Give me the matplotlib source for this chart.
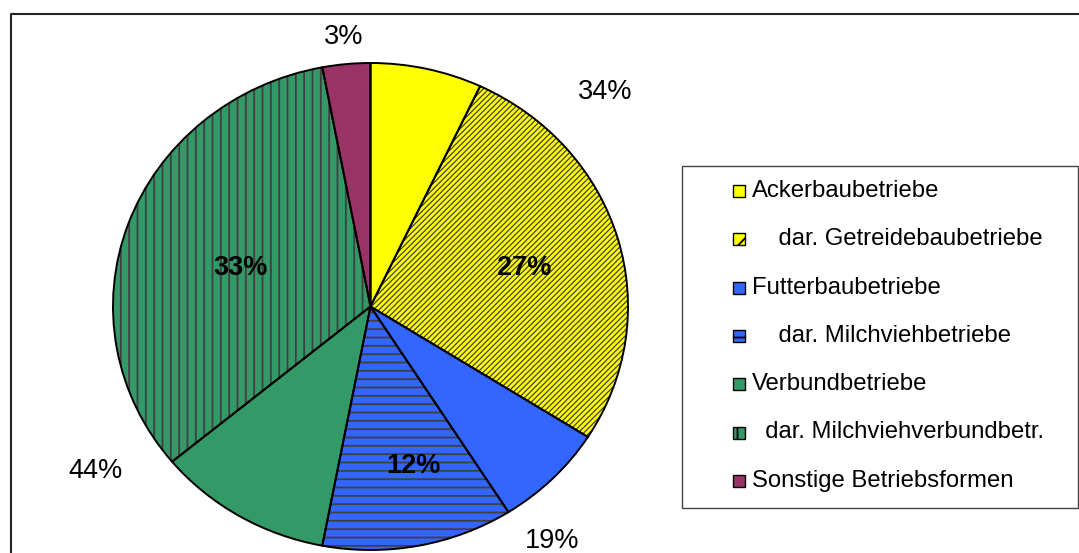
#plot.py
#pie chart of farm types (Betriebsformen)
import matplotlib
matplotlib.use("Agg")
import matplotlib.pyplot as plt
from matplotlib.patches import Rectangle

plt.rcParams['font.family'] = ['Liberation Sans', 'DejaVu Sans']
plt.rcParams['hatch.linewidth'] = 1.3

#data, clockwise from the top
names = ["Ackerbaubetriebe",
         "    dar. Getreidebaubetriebe",
         "Futterbaubetriebe",
         "    dar. Milchviehbetriebe",
         "Verbundbetriebe",
         "  dar. Milchviehverbundbetr.",
         "Sonstige Betriebsformen"]
shares = [7, 27, 7, 12, 11, 33, 3]
colors = ["#FFFF00", "#FFFF00", "#3366FF", "#3366FF", "#339966", "#339966", "#993366"]
hatches = [None, "//////", None, "--", None, "||", None]
hatch_lw = [0, 0.9, 0, 1.3, 0, 1.3, 0]

#percentage labels: text, bold?, position in pie units
pct_text = ["34%", "27%", "19%", "12%", "44%", "33%", "3%"]
pct_bold = [False, True, False, True, False, True, False]
pct_pos = [(0.913, 0.879), (0.598, 0.160), (0.707, -0.961), (0.167, -0.657),
           (-1.068, -0.674), (-0.505, 0.160), (-0.105, 1.105)]

W, H = 1079, 553
fig = plt.figure(figsize=(W/100, H/100), dpi=100)

#background axes in pixel units for frame and legend
bg = fig.add_axes([0, 0, 1, 1])
bg.set_xlim(0, W)
bg.set_ylim(H, 0)
bg.axis('off')
bg.plot([10.5, 10.5, W], [H, 13.5, 13.5], color="#222222", lw=1.5)

#pie (slightly wider than tall like the original)
cx, cy, rx, ry = 370.5, 306.5, 257.5, 243.5
ax = fig.add_axes([(cx-rx)/W, (H-cy-ry)/H, 2*rx/W, 2*ry/H])
hatch_col = "#404040"
wedges, _ = ax.pie(shares, colors=colors, startangle=90, counterclock=False,
                   wedgeprops=dict(linewidth=0, edgecolor=hatch_col))
for w, h, lw in zip(wedges, hatches, hatch_lw):
    if h:
        w.set_hatch(h)
        if hasattr(w, "set_hatch_linewidth"):
            w.set_hatch_linewidth(lw)
ax.pie(shares, startangle=90, counterclock=False,
       wedgeprops=dict(fill=False, linewidth=1.4, edgecolor="black"))
ax.set_aspect('auto')
ax.set_xlim(-1, 1)
ax.set_ylim(-1, 1)

for t, b, (px, py) in zip(pct_text, pct_bold, pct_pos):
    ax.text(px, py, t, ha='center', va='center', fontsize=19.5,
            fontweight='bold' if b else 'normal', clip_on=False)

#legend box
bg.add_patch(Rectangle((682, 166), 396, 342, fill=False, edgecolor="#444444", lw=1))
for i, (n, c, h) in enumerate(zip(names, colors, hatches)):
    y = 191 + i*48.3
    sq = Rectangle((732.5, y-6), 12, 12, facecolor=c, edgecolor="black", lw=1)
    if h:
        sq.set_hatch(h[:2])
    bg.add_patch(sq)
    bg.text(752, y, n, ha='left', va='center', fontsize=17.2)

fig.savefig("out.png", dpi=100)
